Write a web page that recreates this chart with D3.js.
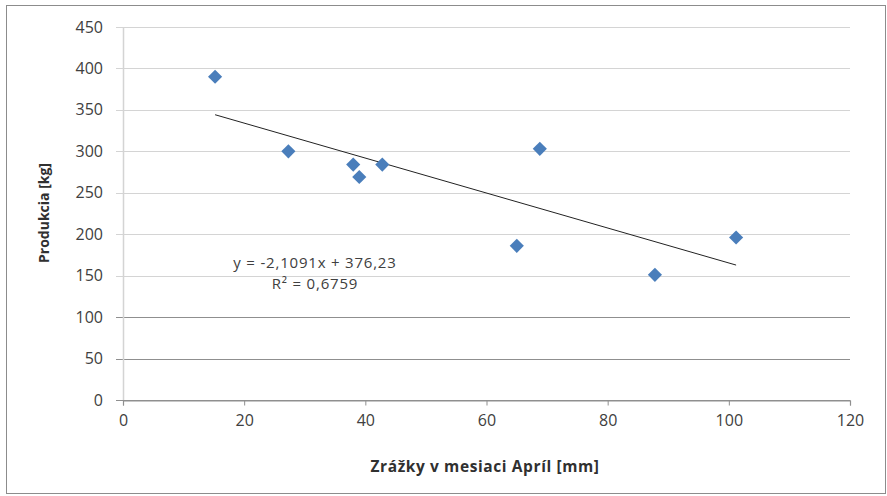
<!DOCTYPE html>
<html>
<head>
<meta charset="utf-8">
<script src="https://cdn.jsdelivr.net/npm/d3@7"></script>
<style>
  html, body { margin: 0; padding: 0; background: #fff; }
  svg { display: block; font-family: "Open Sans", Lato, sans-serif; }
</style>
</head>
<body>
<svg></svg>
<script>
// data
const zrazky = [15.2, 27.3, 38, 39, 42.8, 65, 68.8, 87.8, 101.2];
const produkcia = [390, 300, 284, 269, 284, 186, 303, 151, 196];
const xTicks = [0, 20, 40, 60, 80, 100, 120];
const yTicks = [0, 50, 100, 150, 200, 250, 300, 350, 400, 450];
const slope = -2.1091;
const intercept = 376.23;
const eqLabel = 'y = -2,1091x + 376,23';
const r2Label = 'R² = 0,6759';

const width = 887;
const height = 496;
const margin = { left: 123, top: 27, right: 37, bottom: 96 };

const svg = d3.select('svg').attr('width', width).attr('height', height);

// outer frame
svg
  .append('rect')
  .attr('x', 6.5)
  .attr('y', 5.5)
  .attr('width', 879)
  .attr('height', 488)
  .attr('fill', '#fff')
  .attr('stroke', '#8c8c8c')
  .attr('stroke-width', 1);

const x = d3.scaleLinear().domain([0, 120]).range([margin.left, width - margin.right]);
const y = d3.scaleLinear().domain([0, 450]).range([height - margin.bottom, margin.top]);

// gridlines (with stub ticks on the left)
svg
  .append('g')
  .selectAll('line')
  .data(yTicks)
  .join('line')
  .attr('x1', x(0) - 7)
  .attr('x2', x(120))
  .attr('y1', (d) => Math.round(y(d)) + 0.5)
  .attr('y2', (d) => Math.round(y(d)) + 0.5)
  .attr('stroke', (d) => (d <= 100 ? '#8f8f8f' : '#d4d4d4'))
  .attr('stroke-width', 1.2);

// y axis line
svg
  .append('line')
  .attr('x1', x(0) + 0.5)
  .attr('x2', x(0) + 0.5)
  .attr('y1', y(450))
  .attr('y2', y(0))
  .attr('stroke', '#d4d4d4')
  .attr('stroke-width', 1.5);

// x axis
const xAxis = svg
  .append('g')
  .attr('transform', `translate(0, ${Math.round(y(0)) + 0.5})`)
  .call(d3.axisBottom(x).tickValues(xTicks).tickSize(5).tickPadding(9));
xAxis.select('.domain').attr('stroke', '#8f8f8f').attr('stroke-width', 1.2);
xAxis.selectAll('.tick line').attr('stroke', '#8f8f8f');
xAxis
  .selectAll('.tick text')
  .attr('font-size', 16)
  .attr('font-family', '"Open Sans", sans-serif')
  .attr('fill', '#404040');

// y labels
svg
  .append('g')
  .selectAll('text')
  .data(yTicks)
  .join('text')
  .attr('x', x(0) - 20)
  .attr('y', (d) => y(d))
  .attr('dy', '0.35em')
  .attr('text-anchor', 'end')
  .attr('font-size', 16)
  .attr('fill', '#404040')
  .text((d) => d);

// trend line
const xMin = d3.min(zrazky);
const xMax = d3.max(zrazky);
svg
  .append('line')
  .attr('x1', x(xMin))
  .attr('y1', y(slope * xMin + intercept))
  .attr('x2', x(xMax))
  .attr('y2', y(slope * xMax + intercept))
  .attr('stroke', '#222')
  .attr('stroke-width', 1);

// points
const diamond = d3.symbol(d3.symbolSquare, 100);
svg
  .append('g')
  .selectAll('path')
  .data(zrazky.map((d, i) => [d, produkcia[i]]))
  .join('path')
  .attr('d', diamond)
  .attr('transform', (d) => `translate(${x(d[0])}, ${y(d[1])}) rotate(45)`)
  .attr('fill', '#4a7ebb');

// equation
const eq = svg
  .append('g')
  .attr('font-size', 15)
  .attr('letter-spacing', 0.8)
  .attr('fill', '#404040');
eq.append('text').attr('x', 315).attr('y', 268).attr('text-anchor', 'middle').text(eqLabel);
eq.append('text').attr('x', 315).attr('y', 289).attr('text-anchor', 'middle').text(r2Label);

// axis titles
svg
  .append('text')
  .attr('transform', `translate(49, 213) rotate(-90)`)
  .attr('text-anchor', 'middle')
  .attr('font-size', 14)
  .attr('font-weight', 'bold')
  .attr('fill', '#303030')
  .text('Produkcia [kg]');

svg
  .append('text')
  .attr('x', 485)
  .attr('y', 472)
  .attr('text-anchor', 'middle')
  .attr('font-size', 15.5)
  .attr('letter-spacing', 0.6)
  .attr('font-weight', 'bold')
  .attr('fill', '#303030')
  .text('Zrážky v mesiaci Apríl [mm]');
</script>
</body>
</html>
